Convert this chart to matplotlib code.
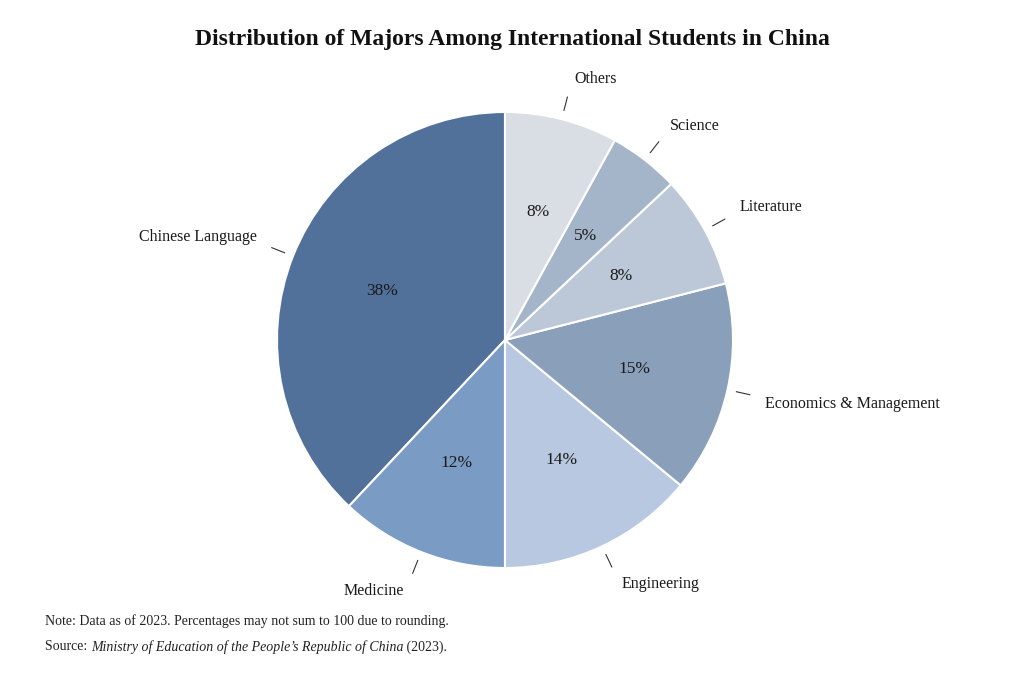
import matplotlib
matplotlib.use("Agg")
import matplotlib.pyplot as plt
import numpy as np

categories = ["Chinese Language", "Medicine", "Engineering", "Economics & Management", "Literature", "Science", "Others"]
values = [38, 12, 14, 15, 8, 5, 8]
colors = ["#52719a", "#7a9cc4", "#b7c8e0", "#8a9fba", "#bcc8d8", "#a5b5c9", "#d9dde4"]

plt.rcParams['font.family'] = ['Liberation Serif', 'DejaVu Serif']
fig = plt.figure(figsize=(10.24, 6.83), dpi=100)
ax = fig.add_axes([(505-228)/1024, (683-340-228)/683, 456/1024, 456/683])
wedges, texts = ax.pie(values, colors=colors, startangle=90, counterclock=True,
                       wedgeprops=dict(edgecolor="white", linewidth=1.5))
ax.set_aspect('equal')
ax.set_xlim(-1, 1); ax.set_ylim(-1, 1)
for w, v, lab in zip(wedges, values, categories):
    a = np.deg2rad((w.theta1 + w.theta2) / 2)
    c, s = np.cos(a), np.sin(a)
    ax.text(0.58*c, 0.58*s, f"{v}%", ha="center", va="center", fontsize=12.5, color="#1a1a1a")
    ax.plot([1.04*c, 1.1*c], [1.04*s, 1.1*s], color="#333333", lw=0.8, clip_on=False)
    ha = "left" if c > 0.1 else ("right" if c < -0.1 else "center")
    ax.text(1.15*c + (0.02 if ha=="left" else -0.02 if ha=="right" else 0), 1.15*s + 0.03*np.sign(s),
            lab, ha=ha, va="center", fontsize=11.5, color="#1a1a1a")

fig.text(0.5, 1-40/683, "Distribution of Majors Among International Students in China",
         ha="center", va="center", fontsize=17, fontweight="bold", color="#111111")
fig.text(45/1024, 1-621/683, "Note: Data as of 2023. Percentages may not sum to 100 due to rounding.",
         ha="left", va="center", fontsize=10, color="#222222")
fig.text(45/1024, 1-647/683, "Source: $\\it{}$", alpha=0)
t1 = fig.text(45/1024, 1-647/683, "Source: ", ha="left", va="center", fontsize=10, color="#222222")
fig.canvas.draw()
bb = t1.get_window_extent()
x2 = bb.x1/1024
t2 = fig.text(x2, 1-647/683, "Ministry of Education of the People\u2019s Republic of China", ha="left", va="center",
              fontsize=10, style="italic", color="#222222")
fig.canvas.draw()
bb2 = t2.get_window_extent()
fig.text(bb2.x1/1024, 1-647/683, " (2023).", ha="left", va="center", fontsize=10, color="#222222")
fig.savefig("out.png", dpi=100, facecolor="white")
